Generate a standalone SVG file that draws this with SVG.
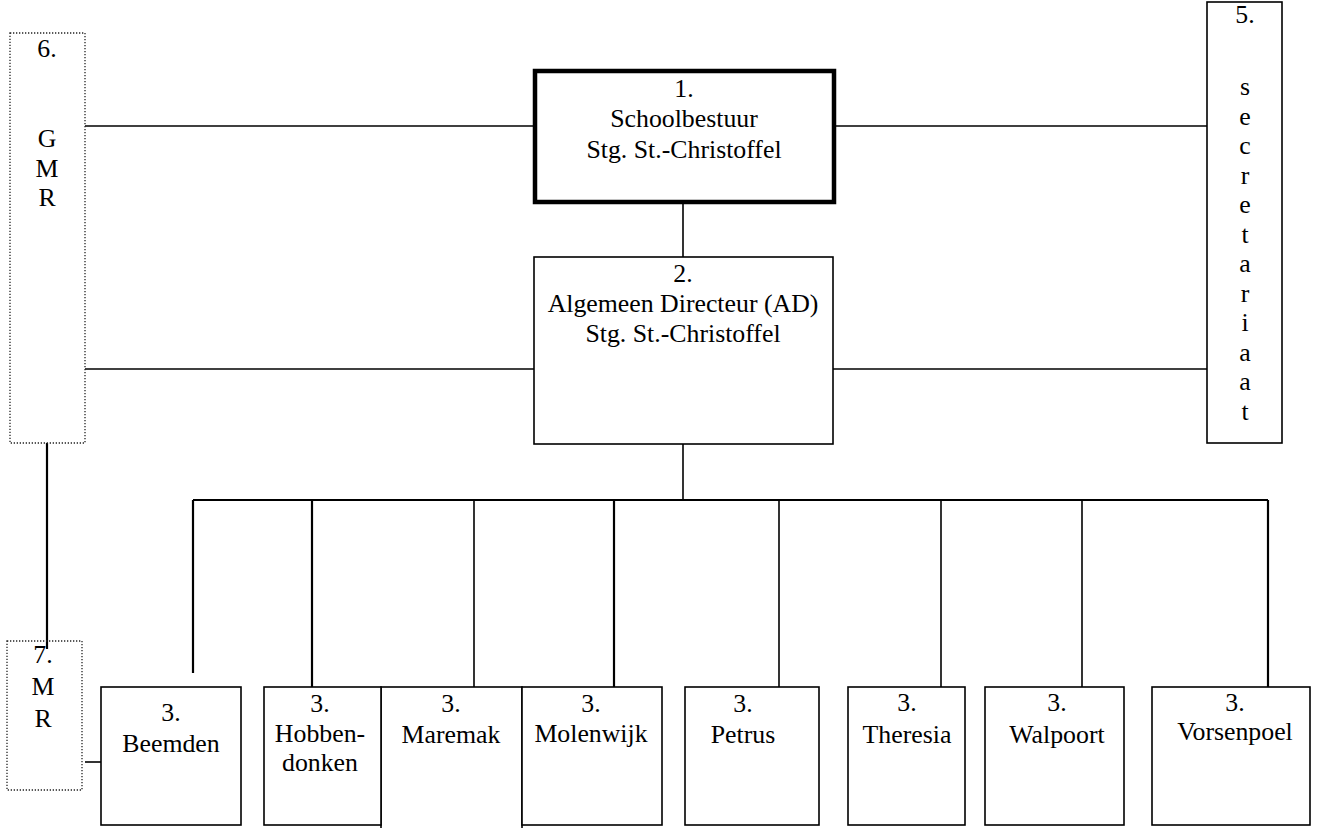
<svg xmlns="http://www.w3.org/2000/svg" width="1317" height="828" viewBox="0 0 1317 828">
<style>
  text { font-family: "Liberation Serif", "Times New Roman", serif; font-size: 25.8px; fill: #000; text-anchor: middle; }
  .box { fill: #fff; stroke: #000; stroke-width: 1.6; }
  .thick { fill: #fff; stroke: #000; stroke-width: 4.5; }
  .dot { fill: #fff; stroke: #222; stroke-width: 1.3; stroke-dasharray: 1.3 1.7; }
  .ln { stroke: #000; stroke-width: 1.6; fill: none; }
  .ln2 { stroke: #000; stroke-width: 2.2; fill: none; }
</style>
<rect width="1317" height="828" fill="#fff"/>
<g id="connectors">
  <line class="ln" x1="85" y1="126" x2="533" y2="126"/>
  <line class="ln" x1="836" y1="126" x2="1207" y2="126"/>
  <line class="ln" x1="85" y1="369" x2="534" y2="369"/>
  <line class="ln" x1="833" y1="369" x2="1207" y2="369"/>
  <line class="ln" x1="683" y1="204" x2="683" y2="257"/>
  <line class="ln" x1="683" y1="444" x2="683" y2="500"/>
  <line class="ln2" x1="193" y1="500" x2="1268" y2="500"/>
  <line class="ln2" x1="193" y1="500" x2="193" y2="673"/>
  <line class="ln2" x1="312" y1="500" x2="312" y2="687"/>
  <line class="ln" x1="474" y1="500" x2="474" y2="687"/>
  <line class="ln2" x1="614" y1="500" x2="614" y2="687"/>
  <line class="ln" x1="779" y1="500" x2="779" y2="687"/>
  <line class="ln" x1="941" y1="500" x2="941" y2="687"/>
  <line class="ln" x1="1082" y1="500" x2="1082" y2="687"/>
  <line class="ln2" x1="1268" y1="500" x2="1268" y2="687"/>
  <line class="ln" x1="85" y1="762" x2="101" y2="762"/>
  <line class="ln2" x1="47" y1="443" x2="47" y2="649"/>
</g>
<g id="n6">
  <rect class="dot" x="10" y="33" width="75" height="410"/>
  <text x="47" y="57">6.</text>
  <text x="47" y="147">G</text>
  <text x="47" y="177">M</text>
  <text x="47" y="206">R</text>
</g>
<g id="n7">
  <rect class="dot" x="7" y="641" width="75" height="149" style="fill:none"/>
  <text x="43" y="663">7.</text>
  <text x="43" y="695">M</text>
  <text x="43" y="727">R</text>
</g>
<g id="n1">
  <rect class="thick" x="535" y="71" width="299" height="131"/>
  <text x="684" y="97">1.</text>
  <text x="684" y="127">Schoolbestuur</text>
  <text x="684" y="158">Stg. St.-Christoffel</text>
</g>
<g id="n2">
  <rect class="box" x="534" y="257" width="299" height="187"/>
  <text x="683" y="282">2.</text>
  <text x="683" y="312">Algemeen Directeur (AD)</text>
  <text x="683" y="342">Stg. St.-Christoffel</text>
</g>
<g id="n5">
  <rect class="box" x="1207" y="2" width="75" height="441"/>
  <text x="1245" y="23">5.</text>
  <text x="1245" y="95">s</text>
  <text x="1245" y="124.5">e</text>
  <text x="1245" y="154">c</text>
  <text x="1245" y="183.5">r</text>
  <text x="1245" y="213">e</text>
  <text x="1245" y="242.5">t</text>
  <text x="1245" y="272">a</text>
  <text x="1245" y="301.5">r</text>
  <text x="1245" y="331">i</text>
  <text x="1245" y="360.5">a</text>
  <text x="1245" y="390">a</text>
  <text x="1245" y="419.5">t</text>
</g>
<g id="n3-beemden">
  <rect class="box" x="101" y="687" width="140" height="138"/>
  <text x="171" y="721">3.</text>
  <text x="171" y="752">Beemden</text>
</g>
<g id="n3-maremak">
  <rect class="box" x="381" y="687" width="141" height="150"/>
  <text x="451" y="712">3.</text>
  <text x="451" y="743">Maremak</text>
</g>
<g id="n3-hobbendonken">
  <rect class="box" x="264" y="687" width="117" height="138"/>
  <text x="320" y="712">3.</text>
  <text x="320" y="742">Hobben-</text>
  <text x="320" y="771">donken</text>
</g>
<g id="n3-molenwijk">
  <rect class="box" x="522" y="687" width="140" height="138"/>
  <text x="591" y="712">3.</text>
  <text x="591" y="742">Molenwijk</text>
</g>
<g id="n3-petrus">
  <rect class="box" x="685" y="687" width="134" height="138"/>
  <text x="743" y="712">3.</text>
  <text x="743" y="743">Petrus</text>
</g>
<g id="n3-theresia">
  <rect class="box" x="848" y="687" width="117" height="138"/>
  <text x="907" y="711">3.</text>
  <text x="907" y="743">Theresia</text>
</g>
<g id="n3-walpoort">
  <rect class="box" x="985" y="687" width="139" height="138"/>
  <text x="1057" y="711">3.</text>
  <text x="1057" y="743">Walpoort</text>
</g>
<g id="n3-vorsenpoel">
  <rect class="box" x="1152" y="687" width="158" height="138"/>
  <text x="1235" y="711">3.</text>
  <text x="1235" y="740">Vorsenpoel</text>
</g>
</svg>
